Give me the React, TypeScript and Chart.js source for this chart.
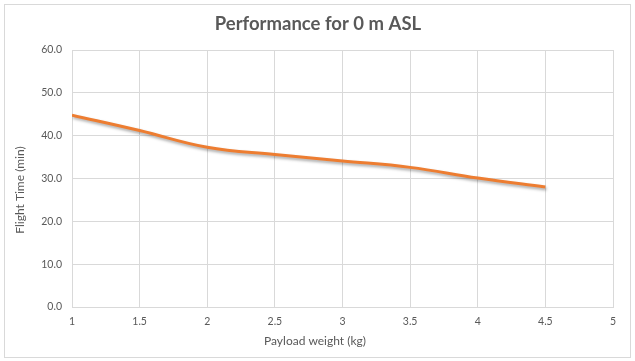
import React, { useEffect, useRef } from "react";
import { Chart, registerables } from "chart.js";

Chart.register(...registerables);

const payloadKg = [1, 1.5, 2, 2.5, 3, 3.5, 4, 4.5];
const flightTimeMin = [44.8, 41.2, 37.3, 35.6, 34.1, 32.6, 30.1, 28.0];
const chartTitle = "Performance for 0 m ASL";
const xAxisTitle = "Payload weight (kg)";
const yAxisTitle = "Flight Time (min)";

const TEXT = "#595959";
const GRID = "#d9d9d9";
const FONT = "Lato, 'Open Sans', sans-serif";

const titlesPlugin = {
  id: "titlesPlugin",
  afterDraw(chart: any) {
    const ctx = chart.ctx;
    ctx.save();
    ctx.fillStyle = TEXT;
    ctx.textAlign = "center";
    ctx.textBaseline = "middle";
    ctx.font = `bold 18.5px ${FONT}`;
    ctx.fillText(chartTitle, 318, 24);
    ctx.font = `12px ${FONT}`;
    ctx.fillText(xAxisTitle, 315, 341);
    ctx.translate(20, 190);
    ctx.rotate(-Math.PI / 2);
    ctx.fillText(yAxisTitle, 0, 0);
    ctx.restore();
  },
};

const shadowPlugin = {
  id: "shadowPlugin",
  beforeDatasetDraw(chart: any) {
    const ctx = chart.ctx;
    ctx.save();
    ctx.shadowColor = "rgba(0,0,0,0.35)";
    ctx.shadowBlur = 3;
    ctx.shadowOffsetX = 1;
    ctx.shadowOffsetY = 2;
  },
  afterDatasetDraw(chart: any) {
    chart.ctx.restore();
  },
};

export default function App() {
  const ref = useRef<HTMLCanvasElement | null>(null);
  useEffect(() => {
    if (!ref.current) return;
    const chart = new Chart(ref.current, {
      type: "line",
      data: {
        datasets: [
          {
            data: payloadKg.map((x, i) => ({ x, y: flightTimeMin[i] })),
            borderColor: "#ED7D31",
            borderWidth: 3,
            tension: 0.4,
            pointRadius: 0,
            fill: false,
          },
        ],
      },
      options: {
        animation: false,
        responsive: false,
        maintainAspectRatio: false,
        layout: { padding: { top: 50, right: 22, bottom: 0, left: 0 } },
        plugins: {
          legend: { display: false },
          tooltip: { enabled: false },
          title: { display: false },
        },
        scales: {
          x: {
            type: "linear",
            min: 1,
            max: 5,
            afterFit(scale: any) {
              scale.height = 54;
            },
            ticks: {
              stepSize: 0.5,
              color: TEXT,
              font: { family: FONT, size: 10.5 },
              padding: 8,
              maxRotation: 0,
              callback: (v: any) => String(Number(v)),
            },
            grid: { color: GRID, drawTicks: false, tickLength: 0 },
            border: { color: GRID },
          },
          y: {
            min: 0,
            max: 60,
            afterFit(scale: any) {
              scale.width = 72;
            },
            ticks: {
              stepSize: 10,
              color: TEXT,
              font: { family: FONT, size: 10.5 },
              padding: 10,
              callback: (v: any) => Number(v).toFixed(1),
            },
            grid: { color: GRID, drawTicks: false, tickLength: 0 },
            border: { color: GRID },
          },
        },
      },
      plugins: [shadowPlugin, titlesPlugin],
    });
    return () => chart.destroy();
  }, []);

  return (
    <div style={{ position: "absolute", left: 0, top: 0, width: 635, height: 361, background: "#fff" }}>
      <canvas ref={ref} width={635} height={361} style={{ position: "absolute", left: 0, top: 0 }} />
      <div
        style={{
          position: "absolute",
          left: 4,
          top: 4,
          width: 625,
          height: 352,
          border: "1.5px solid #d9d9d9",
          pointerEvents: "none",
        }}
      />
    </div>
  );
}
